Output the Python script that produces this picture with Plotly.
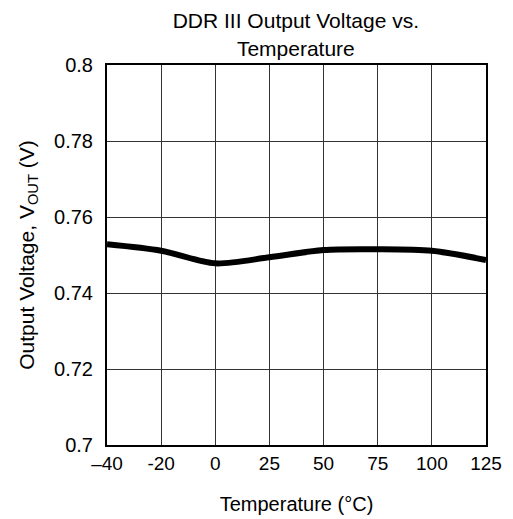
import plotly.graph_objects as go

temp_labels = ["–40", "-20", "0", "25", "50", "75", "100", "125"]
positions = [0, 1, 2, 3, 4, 5, 6, 7]
vout = [0.7528, 0.7511, 0.7478, 0.7494, 0.7513, 0.7515, 0.7511, 0.7487]
y_ticks = [0.7, 0.72, 0.74, 0.76, 0.78, 0.8]
y_labels = ["0.7", "0.72", "0.74", "0.76", "0.78", "0.8"]

fig = go.Figure()
fig.add_trace(go.Scatter(
    x=positions, y=vout, mode="lines",
    line=dict(color="black", width=6, shape="spline", smoothing=0.8),
    showlegend=False, hoverinfo="skip"))

font = "Liberation Sans, Arial, sans-serif"
# page body has an 8px margin, so the figure is sized/offset to compensate
fig.update_layout(
    width=505, height=511,
    margin=dict(l=99, r=27, t=57, b=74),
    paper_bgcolor="white", plot_bgcolor="white",
    font=dict(family=font, color="black"),
    title=dict(text="DDR III Output Voltage vs.<br>Temperature",
               x=0.570, xanchor="center", y=0.960, yanchor="top",
               font=dict(size=21, family=font, color="black")),
    xaxis=dict(range=[0, 7], tickvals=positions, ticktext=temp_labels,
               showgrid=True, gridcolor="#333", gridwidth=1, automargin=False,
               showline=True, linecolor="black", linewidth=2, mirror=True,
               zeroline=False, ticks="", tickfont=dict(size=19),
               title=dict(text="Temperature (°C)", font=dict(size=20), standoff=24)),
    yaxis=dict(range=[0.7, 0.8], tickvals=y_ticks, ticktext=y_labels,
               showgrid=True, gridcolor="#333", gridwidth=1, automargin=False,
               showline=True, linecolor="black", linewidth=2, mirror=True,
               zeroline=False, ticks="", tickfont=dict(size=20), ticklabelstandoff=8,
               title=dict(text="Output Voltage, V<sub>OUT</sub> (V)", font=dict(size=21), standoff=14)),
)
fig.write_html("out.html")
